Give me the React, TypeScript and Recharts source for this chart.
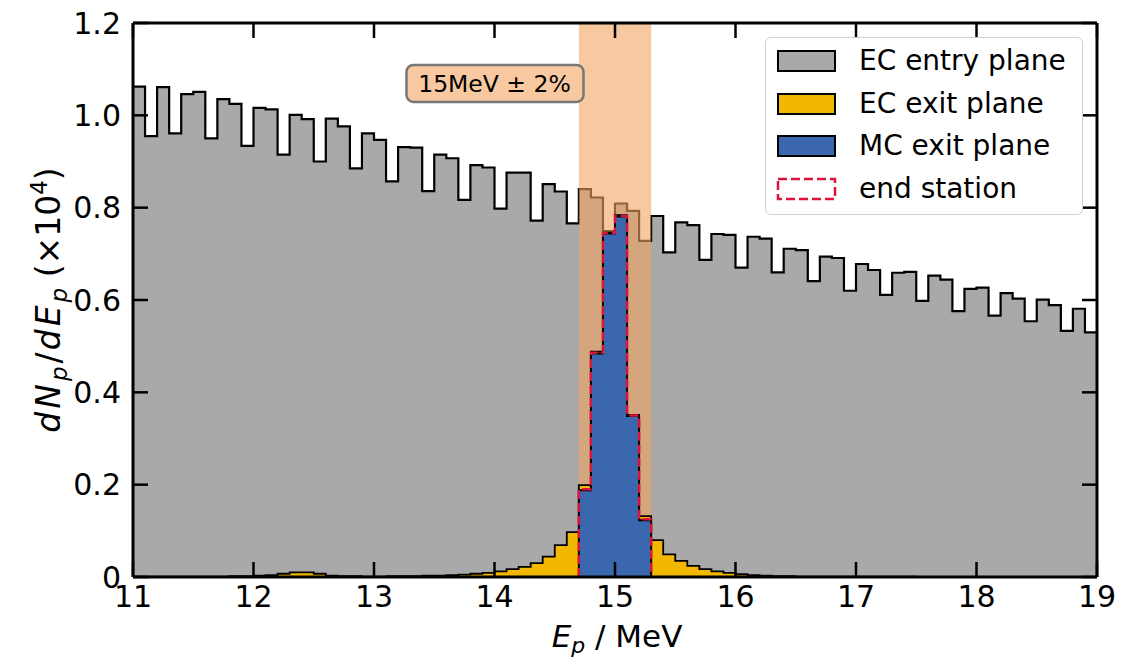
import React from "react";
import {
  ComposedChart, Area, Line, XAxis, YAxis, ReferenceArea, ReferenceDot, ReferenceLine, Label,
} from "recharts";

// histogram bins: 0.1 MeV wide, starting at 11 MeV
const binStart = 11;
const binWidth = 0.1;

const ecEntry = [
  1.062, 0.955, 1.061, 0.961, 1.046, 1.051, 0.95, 1.035, 1.025, 0.934,
  1.016, 1.013, 0.915, 1.001, 0.992, 0.9, 0.993, 0.976, 0.885, 0.961,
  0.947, 0.857, 0.931, 0.93, 0.836, 0.915, 0.907, 0.817, 0.892, 0.887,
  0.798, 0.876, 0.876, 0.772, 0.851, 0.835, 0.766, 0.84, 0.822, 0.749,
  0.809, 0.793, 0.728, 0.782, 0.703, 0.768, 0.762, 0.687, 0.743, 0.741,
  0.67, 0.737, 0.733, 0.66, 0.711, 0.708, 0.641, 0.694, 0.691, 0.62,
  0.678, 0.665, 0.611, 0.659, 0.661, 0.598, 0.653, 0.644, 0.576, 0.624,
  0.627, 0.566, 0.615, 0.603, 0.554, 0.601, 0.589, 0.533, 0.581, 0.53,
];

const ecExit = [
  0.001, 0.001, 0.001, 0.001, 0.001, 0.001, 0.001, 0.001, 0.002, 0.002,
  0.003, 0.004, 0.007, 0.01, 0.01, 0.007, 0.003, 0.002, 0.002, 0.001,
  0.001, 0.002, 0.002, 0.002, 0.003, 0.003, 0.004, 0.005, 0.007, 0.009,
  0.012, 0.017, 0.022, 0.03, 0.044, 0.069, 0.097, 0.199, 0.488, 0.746,
  0.784, 0.351, 0.132, 0.08, 0.049, 0.035, 0.024, 0.017, 0.012, 0.009,
  0.006, 0.004, 0.003, 0.002, 0.002, 0.001, 0.001, 0.001, 0.001, 0.001,
  0.001, 0.001, 0.001, 0.001, 0.001, 0.0, 0.0, 0.0, 0.0, 0.0,
  0.0, 0.0, 0.0, 0.0, 0.0, 0.0, 0.0, 0.0, 0.0, 0.0,
];

// MC exit plane and end station only fill bins 14.7 .. 15.3
const peakFirstBin = 37;
const mcExit = [0.188, 0.484, 0.744, 0.781, 0.349, 0.123];
const endStation = [0.19, 0.486, 0.745, 0.782, 0.35, 0.125];

const xTicks = [11, 12, 13, 14, 15, 16, 17, 18, 19];
const yTicks = [0, 0.2, 0.4, 0.6, 0.8, 1.0, 1.2];
const xDomain = [11, 19];
const yDomain = [0, 1.2];
const band = [14.7, 15.3];
const note = { x: 14.0, y: 1.068, text: "15MeV \u00b1 2%" };

const legendItems = [
  { name: "EC entry plane", fill: "#a9a9a9", stroke: "#000", dashed: false },
  { name: "EC exit plane", fill: "#f2b800", stroke: "#000", dashed: false },
  { name: "MC exit plane", fill: "#3a67ae", stroke: "#000", dashed: false },
  { name: "end station", fill: "none", stroke: "#dc143c", dashed: true },
];

const edge = (i: number) => +(binStart + i * binWidth).toFixed(2);

// open step: last value carried to the right edge
function openStep(values: number[]) {
  const pts = values.map((v, i) => ({ x: edge(i), y: v }));
  pts.push({ x: edge(values.length), y: values[values.length - 1] });
  return pts;
}

// closed step: goes up from 0 at the first edge and back down at the last
function closedStep(values: number[], first: number) {
  const pts = [{ x: edge(first), y: 0 }];
  values.forEach((v, i) => pts.push({ x: edge(first + i), y: v }));
  pts.push({ x: edge(first + values.length), y: 0 });
  return pts;
}

const entryData = openStep(ecEntry);
const exitData = openStep(ecExit);
const mcData = closedStep(mcExit, peakFirstBin);
const endData = closedStep(endStation, peakFirstBin);

const FONT = "DejaVu Sans, Verdana, sans-serif";
const W = 1137;
const H = 664;
const PLOT = { top: 23, right: 40, left: 133, bottom: 87 };
const TICK_PX = 15; // inward tick length
const tickLenX = (TICK_PX * (xDomain[1] - xDomain[0])) / (W - PLOT.left - PLOT.right);
const tickLenY = (TICK_PX * (yDomain[1] - yDomain[0])) / (H - PLOT.top - PLOT.bottom);
const tickStyle = { fill: "#000", fontSize: 30, fontFamily: FONT };
const axisLine = { stroke: "#000", strokeWidth: 3 };

const NoteBox = (p: any) => (
  <g>
    <rect x={p.cx - 88} y={p.cy - 19} width={177} height={37} rx={7}
      fill="#f8c9a0" stroke="#777" strokeWidth={2.5} />
    <text x={p.cx} y={p.cy + 8} textAnchor="middle" fontSize={23.5} fontFamily={FONT} fill="#000">
      {note.text}
    </text>
  </g>
);

const XTitle = () => (
  <text x={617} y={647} textAnchor="middle" fontSize={31} fontFamily={FONT} fill="#000">
    <tspan fontStyle="italic">E</tspan>
    <tspan fontStyle="italic" fontSize={22} dy={6}>p</tspan>
    <tspan dy={-6}> / MeV</tspan>
  </text>
);

const YTitle = () => (
  <text transform="rotate(-90)" x={-300} y={60} textAnchor="middle" fontSize={33} fontFamily={FONT} fill="#000">
    <tspan fontStyle="italic" letterSpacing={3}>dN</tspan>
    <tspan fontStyle="italic" fontSize={23} dy={7}>p</tspan>
    <tspan dy={-7} dx={3}>/</tspan>
    <tspan fontStyle="italic" letterSpacing={3} dx={2}>dE</tspan>
    <tspan fontStyle="italic" fontSize={23} dy={7}>p</tspan>
    <tspan dy={-7}>{"  (×10"}</tspan>
    <tspan fontSize={23} dy={-13}>4</tspan>
    <tspan dy={13}>)</tspan>
  </text>
);

function ChartLegend() {
  return (
    <div
      style={{
        position: "absolute", left: 765, top: 37, width: 318, height: 178,
        border: "1.5px solid #d0d0d0", borderRadius: 6, background: "rgba(255,255,255,0.85)",
        boxSizing: "border-box", paddingTop: 2, fontFamily: FONT,
      }}
    >
      {legendItems.map((it) => (
        <div key={it.name} style={{ display: "flex", alignItems: "center", height: 42.5 }}>
          <svg width={62} height={26} style={{ marginLeft: 10 }}>
            <rect x={2} y={3} width={57} height={20} fill={it.fill} stroke={it.stroke}
              strokeWidth={it.dashed ? 2.5 : 2} strokeDasharray={it.dashed ? "9 4" : undefined} />
          </svg>
          <span style={{ marginLeft: 21, fontSize: 28, color: "#000", lineHeight: "30px" }}>{it.name}</span>
        </div>
      ))}
    </div>
  );
}

// inward ticks on all four sides, as short segments in data space
function tickSegments() {
  const segs: { key: string; seg: { x: number; y: number }[] }[] = [];
  xTicks.forEach((t) => {
    segs.push({ key: `b${t}`, seg: [{ x: t, y: yDomain[0] }, { x: t, y: yDomain[0] + tickLenY }] });
    segs.push({ key: `t${t}`, seg: [{ x: t, y: yDomain[1] - tickLenY }, { x: t, y: yDomain[1] }] });
  });
  yTicks.forEach((t) => {
    segs.push({ key: `l${t}`, seg: [{ x: xDomain[0], y: t }, { x: xDomain[0] + tickLenX, y: t }] });
    segs.push({ key: `r${t}`, seg: [{ x: xDomain[1] - tickLenX, y: t }, { x: xDomain[1], y: t }] });
  });
  return segs;
}

export default function App() {
  return (
    <div style={{ position: "absolute", left: 0, top: 0, width: W, height: H, background: "#fff" }}>
      {/* plot layer: series and ticks, axes hidden */}
      <div style={{ position: "absolute", left: 0, top: 0 }}>
        <ComposedChart width={W} height={H} margin={PLOT}>
          <XAxis dataKey="x" type="number" domain={xDomain} ticks={xTicks} allowDataOverflow hide />
          <YAxis type="number" domain={yDomain} ticks={yTicks} allowDataOverflow hide />
          <Area data={entryData} dataKey="y" type="stepAfter" fill="#a9a9a9" fillOpacity={1}
            stroke="#000" strokeWidth={2.2} isAnimationActive={false} dot={false} activeDot={false} />
          <ReferenceArea x1={band[0]} x2={band[1]} fill="#f4a460" fillOpacity={0.6} stroke="none" ifOverflow="hidden" />
          <Area data={exitData} dataKey="y" type="stepAfter" fill="#f2b800" fillOpacity={1}
            stroke="#000" strokeWidth={1.8} isAnimationActive={false} dot={false} activeDot={false} />
          <Area data={mcData} dataKey="y" type="stepAfter" fill="#3a67ae" fillOpacity={1}
            stroke="#000" strokeWidth={2} isAnimationActive={false} dot={false} activeDot={false} />
          <Line data={endData} dataKey="y" type="stepAfter" stroke="#dc143c" strokeWidth={2.5}
            strokeDasharray="9 4" isAnimationActive={false} dot={false} activeDot={false} />
          <ReferenceDot x={note.x} y={note.y} r={0} shape={<NoteBox />} ifOverflow="visible" />
          {tickSegments().map((s) => (
            <ReferenceLine key={s.key} segment={s.seg} stroke="#000" strokeWidth={2.5} ifOverflow="visible" />
          ))}
        </ComposedChart>
      </div>
      {/* frame layer: axis lines and labels drawn above the fills */}
      <div style={{ position: "absolute", left: 0, top: 0, pointerEvents: "none" }}>
        <ComposedChart width={W} height={H} data={[{ x: 11, y: 0 }]}
          margin={{ top: 22, right: 39, left: 73, bottom: 57 }}>
          <XAxis
            dataKey="x" type="number" domain={xDomain} ticks={xTicks} allowDataOverflow
            tick={tickStyle} tickLine={false} tickSize={0} tickMargin={9} height={30}
            axisLine={axisLine} label={<Label content={<XTitle />} />}
          />
          <XAxis
            xAxisId="top" orientation="top" dataKey="x" type="number" domain={xDomain} ticks={xTicks}
            allowDataOverflow tick={false} tickLine={false} height={1} axisLine={axisLine}
          />
          <YAxis
            type="number" domain={yDomain} ticks={yTicks} allowDataOverflow
            tick={tickStyle} tickLine={false} tickSize={0} tickMargin={12} width={60}
            tickFormatter={(v: number) => (v === 0 ? "0" : v.toFixed(1))}
            axisLine={axisLine} label={<Label content={<YTitle />} />}
          />
          <YAxis
            yAxisId="right" orientation="right" type="number" domain={yDomain} ticks={yTicks}
            allowDataOverflow tick={false} tickLine={false} width={1} axisLine={axisLine}
          />
        </ComposedChart>
      </div>
      <ChartLegend />
    </div>
  );
}
